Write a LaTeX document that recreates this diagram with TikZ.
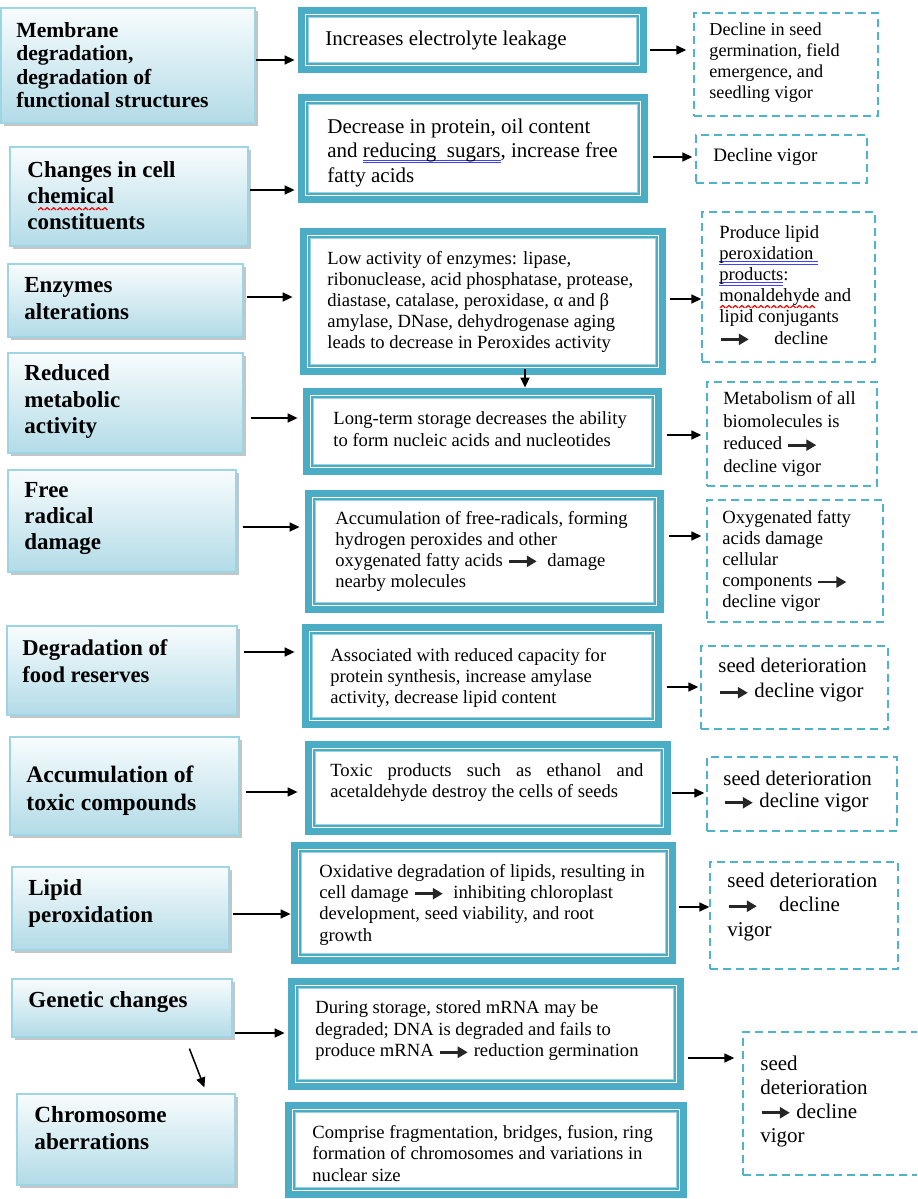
\documentclass[tikz,border=0pt]{standalone}
\usepackage{fontspec}
\setmainfont{Liberation Serif}
\usetikzlibrary{arrows.meta,shadows,fit,calc}
\definecolor{tealA}{HTML}{4BACC6}
\definecolor{lborder}{HTML}{9ED5E4}
\definecolor{lbot}{HTML}{B2DBE7}
\definecolor{ltop}{HTML}{F8FCFD}
\definecolor{dashc}{HTML}{4FB3CC}
\newlength\ulw
\newcommand\rar{\tikz[baseline=-0.55ex]\draw[line width=1.4pt,black!85,-{Triangle[length=5pt,width=5.5pt]}](0pt,0pt)--(14pt,0pt);}
\newcommand\bluedbl[1]{\settowidth\ulw{#1}\rlap{\textcolor{blue!75}{\rule[-1.5pt]{\ulw}{0.5pt}}}\rlap{\textcolor{blue!75}{\rule[-2.7pt]{\ulw}{0.5pt}}}#1}
\newcommand\redwave[1]{\settowidth\ulw{#1}\rlap{\lower3.4pt\hbox to\ulw{\leaders\hbox{\tikz\draw[red,line width=0.6pt,line join=round](0pt,0pt)--(1.3pt,1.2pt)--(2.6pt,0pt);}\hfill}}#1}
\begin{document}
\begin{tikzpicture}[x=0.5pt,y=-0.5pt,
  lbox/.style={rectangle, inner sep=0pt, draw=lborder, line width=0.6pt, top color=ltop, bottom color=lbot,
     drop shadow={shadow xshift=1.3pt, shadow yshift=-1.5pt, opacity=0.45}},
  mbox/.style={rectangle, inner sep=0pt, fill=tealA, path picture={
     \fill[white] ([shift={(3.3pt,-3.3pt)}]path picture bounding box.north west) rectangle ([shift={(-3.3pt,3.3pt)}]path picture bounding box.south east);
     \draw[tealA, line width=0.8pt] ([shift={(4.4pt,-4.4pt)}]path picture bounding box.north west) rectangle ([shift={(-4.4pt,4.4pt)}]path picture bounding box.south east);
     \draw[tealA!55, line width=0.4pt] ([shift={(5.4pt,-5.4pt)}]path picture bounding box.north west) rectangle ([shift={(-5.4pt,5.4pt)}]path picture bounding box.south east);
  }},
  rbox/.style={rectangle, inner sep=0pt, draw=dashc, line width=0.7pt, dash pattern=on 4pt off 2.5pt},
  ltxt/.style={anchor=west, align=left, inner sep=0pt, font=\bfseries\fontsize{11.5}{13.25}\selectfont},
  mtxt/.style={anchor=west, align=left, inner sep=0pt, font=\fontsize{9.3}{10.6}\selectfont},
  rtxt/.style={anchor=west, align=left, inner sep=0pt, font=\fontsize{9.3}{10.6}\selectfont},
  arr/.style={-{Triangle[length=5pt,width=4.5pt]}, line width=0.75pt, black}
]
\useasboundingbox (0,0) rectangle (917,1199);
\clip (0,0) rectangle (917,1199);
\fill[white] (0,0) rectangle (917,1199);

% ---------- left boxes ----------
\node[lbox, fit={(1,8) (255,123)}] (l1) {};
\node[lbox, fit={(10,147) (248,246)}] (l2) {};
\node[lbox, fit={(8,264) (243,337)}] (l3) {};
\node[lbox, fit={(8,353) (243,453)}] (l4) {};
\node[lbox, fit={(8,470) (236,572)}] (l5) {};
\node[lbox, fit={(7,626) (237,715)}] (l6) {};
\node[lbox, fit={(10,737) (239,835)}] (l7) {};
\node[lbox, fit={(12,867) (229,950)}] (l8) {};
\node[lbox, fit={(12,979) (232,1037)}] (l9) {};
\node[lbox, fit={(17,1094) (235,1185)}] (l10) {};

% ---------- middle boxes ----------
\node[mbox, fit={(298,7) (647,73)}] (m1) {};
\node[mbox, fit={(298,94) (648,203)}] (m2) {};
\node[mbox, fit={(300,228) (666,375)}] (m3) {};
\node[mbox, fit={(303,388) (662,475)}] (m4) {};
\node[mbox, fit={(305,490) (664,613)}] (m5) {};
\node[mbox, fit={(302,624) (662,728)}] (m6) {};
\node[mbox, fit={(305,741) (671,835)}] (m7) {};
\node[mbox, fit={(291,842) (676,964)}] (m8) {};
\node[mbox, fit={(288,978) (684,1090)}] (m9) {};
\node[mbox, fit={(285,1102) (687,1198)}] (m10) {};

% ---------- right boxes ----------
\node[rbox, fit={(694,13) (878,116)}] (r1) {};
\node[rbox, fit={(696,135) (867,183)}] (r2) {};
\node[rbox, fit={(702,212) (875,362)}] (r3) {};
\node[rbox, fit={(707,382) (877,486)}] (r4) {};
\node[rbox, fit={(707,500) (883,622)}] (r5) {};
\node[rbox, fit={(701,646) (888,729)}] (r6) {};
\node[rbox, fit={(707,757) (897,831)}] (r7) {};
\node[rbox, fit={(710,862) (898,969)}] (r8) {};
\node[rbox, fit={(743,1032) (935,1175)}] (r9) {};

% ---------- left texts ----------
\node[ltxt, font=\bfseries\fontsize{10.8}{11.75}\selectfont] (t1) at (16,65) {Membrane\\degradation,\\degradation of\\functional structures};
\node[ltxt, font=\bfseries\fontsize{11.5}{13}\selectfont] (t2) at (27,196) {Changes in cell\\c\redwave{hemical}\\constituents};
\node[ltxt, font=\bfseries\fontsize{11.5}{13.5}\selectfont] (t3) at (24,298.5) {Enzymes\\alterations};
\node[ltxt] (t4) at (24,401.5) {Reduced\\metabolic\\activity};
\node[ltxt, font=\bfseries\fontsize{11.5}{13}\selectfont] (t5) at (24,519) {Free\\radical\\damage};
\node[ltxt, font=\bfseries\fontsize{11.3}{13.5}\selectfont] (t6) at (22,661.5) {Degradation of\\food reserves};
\node[ltxt, font=\bfseries\fontsize{11.8}{14}\selectfont] (t7) at (26,791) {Accumulation of\\toxic compounds};
\node[ltxt, font=\bfseries\fontsize{11.5}{13.5}\selectfont] (t8) at (28,903.5) {Lipid\\peroxidation};
\node[ltxt] (t9) at (28,1002) {Genetic changes};
\node[ltxt, font=\bfseries\fontsize{11.6}{13.5}\selectfont] (t10) at (34,1128.5) {Chromosome\\aberrations};

% ---------- middle texts ----------
\node[mtxt, font=\fontsize{10.5}{12.25}\selectfont] (u1) at (325,40) {Increases electrolyte leakage};
\node[mtxt, font=\fontsize{10.5}{12.25}\selectfont] (u2) at (327,152.5) {Decrease in protein, oil content\\and \bluedbl{reducing\ \ sugars}, increase free\\fatty acids};
\node[mtxt, font=\fontsize{9.3}{10.5}\selectfont] (u3) at (327,302) {Low activity of enzymes: lipase,\\ribonuclease, acid phosphatase, protease,\\diastase, catalase, peroxidase, α and β\\amylase, DNase, dehydrogenase aging\\leads to decrease in Peroxides activity};
\node[mtxt, font=\fontsize{9.3}{11}\selectfont] (u4) at (333,429) {Long-term storage decreases the ability\\to form nucleic acids and nucleotides};
\node[mtxt, font=\fontsize{9.3}{10.5}\selectfont] (u5) at (335,551) {Accumulation of free-radicals, forming\\hydrogen peroxides and other\\oxygenated fatty acids \rar\ \ damage\\nearby molecules};
\node[mtxt, font=\fontsize{9.3}{10.5}\selectfont] (u6) at (330,678) {Associated with reduced capacity for\\protein synthesis, increase amylase\\activity, decrease lipid content};
\node[mtxt, font=\fontsize{9.3}{10.5}\selectfont] (u7) at (330,782.5) {\hbox to 156.5pt{Toxic\hfill products\hfill such\hfill as\hfill ethanol\hfill and}\\acetaldehyde destroy the cells of seeds};
\node[mtxt, font=\fontsize{9.3}{10.65}\selectfont] (u8) at (319,904.5) {Oxidative degradation of lipids, resulting in\\cell damage \rar\ \ inhibiting chloroplast\\development, seed viability, and root\\growth};
\node[mtxt, font=\fontsize{9.3}{10.75}\selectfont] (u9) at (315,1031) {During storage, stored mRNA may be\\degraded; DNA is degraded and fails to\\produce mRNA \rar\ reduction germination};
\node[mtxt, font=\fontsize{9.3}{10.75}\selectfont] (u10) at (312,1153.5) {Comprise fragmentation, bridges, fusion, ring\\formation of chromosomes and variations in\\nuclear size};

% ---------- right texts ----------
\node[rtxt, font=\fontsize{9.1}{10.5}\selectfont] (v1) at (709,63) {Decline in seed\\germination, field\\emergence, and\\seedling vigor};
\node[rtxt, font=\fontsize{9.5}{11}\selectfont] (v2) at (713,157) {Decline vigor};
\node[rtxt] (v3) at (719,285) {Produce lipid\\\bluedbl{peroxidation\ }\\\bluedbl{products}:\\\redwave{monaldehyde} and\\lipid conjugants\\\rar\hspace{1.3em}decline};
\node[rtxt, font=\fontsize{9.3}{11.3}\selectfont] (v4) at (723,434) {Metabolism of all\\biomolecules is\\reduced \rar\\decline vigor};
\node[rtxt] (v5) at (722,561) {Oxygenated fatty\\acids damage\\cellular\\components \rar\\decline vigor};
\node[rtxt, font=\fontsize{10.4}{12.5}\selectfont] (v6) at (718,680.5) {seed deterioration\\\rar\ decline vigor};
\node[rtxt, font=\fontsize{10.4}{11}\selectfont] (v7) at (723,792) {seed deterioration\\\rar\ decline vigor};
\node[rtxt, font=\fontsize{10.5}{12.25}\selectfont] (v8) at (727,906.5) {seed deterioration\\\rar\hspace{1em}decline\\vigor};
\node[rtxt, font=\fontsize{10.5}{12}\selectfont] (v9) at (760,1101) {seed\\deterioration\\\rar\ decline\\vigor};

% ---------- connectors: left -> middle ----------
\draw[arr, shorten >=1.5pt] (l1.east |- 0,60) -- (m1.west |- 0,60);
\draw[arr, shorten <=0.5pt, shorten >=1.5pt] (l2.east |- 0,190) -- (m2.west |- 0,190);
\draw[arr, shorten <=1.5pt, shorten >=3.5pt] (l3.east |- 0,297) -- (m3.west |- 0,297);
\draw[arr, shorten <=3.5pt, shorten >=2.5pt] (l4.east |- 0,418) -- (m4.west |- 0,418);
\draw[arr, shorten <=3pt, shorten >=2.5pt] (l5.east |- 0,527) -- (m5.west |- 0,527);
\draw[arr, shorten <=3pt, shorten >=3.5pt] (l6.east |- 0,652) -- (m6.west |- 0,652);
\draw[arr, shorten <=3pt, shorten >=3.5pt] (l7.east |- 0,792) -- (m7.west |- 0,792);
\draw[arr, shorten <=1.5pt] (l8.east |- 0,914) -- (m8.west |- 0,914);
\draw[arr, shorten <=1pt, shorten >=1.5pt] (l9.east |- 0,1033) -- (m9.west |- 0,1033);
\draw[arr] ($(l9.south west)+(178,11)$) -- ($(l10.north west)+(188,-6)$);

% ---------- middle -> middle ----------
\draw[arr] ($(m3.south -| 525,0)+(0,-6)$) -- (m4.north -| 525,0);

% ---------- connectors: middle -> right ----------
\draw[arr, shorten <=1.5pt, shorten >=3.5pt] (m1.east |- 0,50) -- (r1.west |- 0,50);
\draw[arr, shorten <=2.5pt, shorten >=1.5pt] (m2.east |- 0,157) -- (r2.west |- 0,157);
\draw[arr, shorten <=2pt] (m3.east |- 0,299) -- (r3.west |- 0,299);
\draw[arr, shorten <=2.5pt, shorten >=2.5pt] (m4.east |- 0,435) -- (r4.west |- 0,435);
\draw[arr, shorten <=2.5pt, shorten >=2.5pt] (m5.east |- 0,536) -- (r5.west |- 0,536);
\draw[arr, shorten <=2.5pt, shorten >=1pt] (m6.east |- 0,687) -- (r6.west |- 0,687);
\draw[arr, shorten <=0.5pt, shorten >=1pt] (m7.east |- 0,793) -- (r7.west |- 0,793);
\draw[arr, shorten <=1.5pt] (m8.east |- 0,907) -- (r8.west |- 0,907);
\draw[arr, shorten <=2pt, shorten >=4pt] (m9.east |- 0,1058) -- (r9.west |- 0,1058);
\end{tikzpicture}
\end{document}
